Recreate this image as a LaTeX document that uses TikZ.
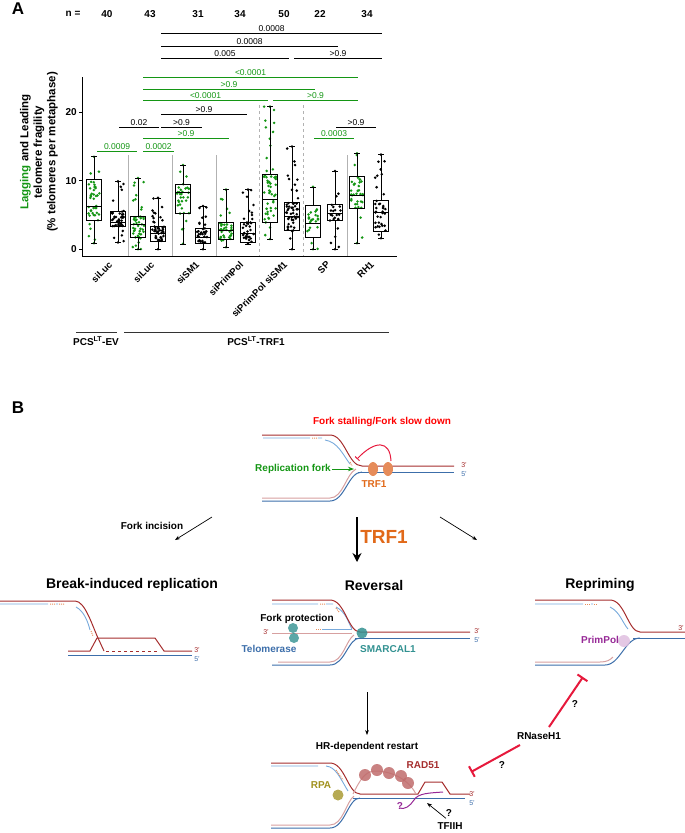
\documentclass[tikz,border=0pt]{standalone}
\usepackage{fontspec}
\setmainfont{Liberation Sans}
\usetikzlibrary{arrows.meta}
\definecolor{grn}{RGB}{20,150,20}
\definecolor{dred}{RGB}{165,45,45}
\definecolor{pnk}{RGB}{215,160,160}
\definecolor{dblu}{RGB}{60,110,170}
\definecolor{lblu}{RGB}{120,170,220}
\definecolor{orn}{RGB}{230,140,90}
\definecolor{ornt}{RGB}{225,105,25}
\definecolor{tl}{RGB}{50,145,145}
\definecolor{inh}{RGB}{230,25,60}
\definecolor{olv}{RGB}{160,145,30}
\definecolor{prp}{RGB}{150,40,150}
\tikzset{
 lab/.style={font=\fontsize{8.5}{9}\selectfont,inner sep=0.5pt},
 blab/.style={font=\bfseries\fontsize{10}{11}\selectfont,inner sep=1pt},
 clab/.style={font=\bfseries\fontsize{9.5}{10}\selectfont,inner sep=1pt},
 ttl/.style={font=\bfseries\fontsize{14}{15}\selectfont,inner sep=1pt},
 sml/.style={font=\fontsize{7}{7}\selectfont,inner sep=0.5pt},
 brk/.style={line width=0.6pt},
 sep/.style={gray!60,line width=0.5pt},
 rd/.style={dred,line width=1pt},
 pk/.style={pnk,line width=1pt},
 bl/.style={dblu,line width=1pt},
 lb/.style={lblu,line width=0.9pt},
 dots/.style={orn,densely dotted,line width=1pt},
 inhb/.style={inh,line width=2pt,-{Bar[width=12pt]}},
 ar/.style={-{Stealth[length=5pt]},line width=0.7pt}
}
\newcommand\yv[1]{249.3-6.86*#1}
\newcommand\bxp[9]{%
 \pgfmathsetseed{#9}
 \foreach \i in {1,...,#8}{%
  \pgfmathsetmacro\uu{rnd}\pgfmathsetmacro\jj{12*(rnd-0.5)}%
  \pgfmathsetmacro\vv{mod(\i,3)==0 ? #6+(#7-#6)*\uu : #3+(#5-#3)*\uu}%
  \fill[#2] ({#1+\jj},{\yv{\vv}}) circle (1.4);}
 \fill[#2] (#1,{\yv{#6}}) circle (1.4) (#1,{\yv{#7}}) circle (1.4);
 \draw[line width=0.6pt] (#1-7.5,{\yv{#3}}) rectangle (#1+7.5,{\yv{#5}})
   (#1-7.5,{\yv{#4}}) -- (#1+7.5,{\yv{#4}})
   (#1,{\yv{#3}}) -- (#1,{\yv{#6}}) (#1,{\yv{#5}}) -- (#1,{\yv{#7}})
   (#1-3,{\yv{#6}}) -- (#1+3,{\yv{#6}}) (#1-3,{\yv{#7}}) -- (#1+3,{\yv{#7}});}
\newcommand\brak[5]{\draw[brk,#1] (#2,#4) -- (#3,#4) node[midway,above=0.3pt,lab,text=#1]{#5};}
\begin{document}
\begin{tikzpicture}[x=1pt,y=-1pt]
\useasboundingbox (0,0) rectangle (685,833);
% ---------------- Panel A
\node[font=\bfseries\fontsize{17}{17}\selectfont] (A) at (18,9) {A};
\node[blab] (nn) at (73,14) {n =};
\foreach \xx/\nv [count=\k] in {107/40,150/43,198/31,240/34,284/50,320/22,367/34}
  \node[blab] (n\k) at (\xx,14) {\nv};
\draw[line width=0.8pt] (82,77) -- (82,256) -- (397,256);
\foreach \t in {0,10,20}{\draw[line width=0.8pt] (82,{\yv{\t}}) -- (79,{\yv{\t}});
  \node[blab,anchor=east] (yt\t) at (78,{\yv{\t}}) {\t};}
\node[font=\bfseries\fontsize{11.5}{13.5}\selectfont,rotate=90,align=center] (ylab) at (39,152) {{\color{grn}Lagging} and Leading\\telomere fragility\\(\% telomeres per metaphase)};
\foreach \xx in {128,172,216,347} \draw[sep] (\xx,155) -- (\xx,256);
\foreach \xx in {259,303} \draw[sep,dashed] (\xx,105) -- (\xx,256);
\bxp{94}{grn}{4.2}{6.2}{10.2}{0.9}{13.5}{40}{11}
\bxp{118}{black}{3.3}{4}{5.5}{1}{9.9}{40}{12}
\bxp{138}{grn}{1.7}{3.7}{4.8}{0}{10.4}{43}{13}
\bxp{158}{black}{1.2}{2.3}{3.3}{0}{7.5}{43}{14}
\bxp{183}{grn}{5.2}{8.3}{9.5}{0.8}{12.3}{31}{15}
\bxp{203}{black}{0.9}{1.7}{3.0}{0}{6.3}{31}{16}
\bxp{226}{grn}{1.5}{2.7}{4.0}{0.3}{8.7}{34}{17}
\bxp{248}{black}{1}{2.3}{4.0}{0.8}{8.7}{34}{18}
\bxp{270}{grn}{4.0}{7.3}{11.0}{1.5}{20.8}{50}{19}
\bxp{292}{black}{2.8}{4.8}{6.8}{0}{15}{50}{20}
\bxp{313}{grn}{1.8}{3.8}{6.4}{0}{9.1}{22}{21}
\bxp{335}{black}{4.2}{5.3}{6.5}{0}{11.4}{22}{22}
\bxp{357}{grn}{6}{7.8}{10.7}{0.9}{14}{34}{23}
\bxp{381}{black}{2.6}{5.4}{7.2}{1.6}{13.8}{34}{24}
\foreach \xx/\tx [count=\k] in {108/siLuc,150/siLuc,195/siSM1,239/siPrimPol,283/siPrimPol siSM1,326/SP,370/RH1}
  \node[clab,rotate=45,anchor=north east] (c\k) at (\xx,259) {\tx};
\brak{black}{161}{382}{33}{0.0008}
\brak{black}{161}{338}{46}{0.0008}
\brak{black}{161}{289}{58}{0.005}
\brak{black}{294}{382}{58}{>0.9}
\brak{grn}{143}{358}{77}{<0.0001}
\brak{grn}{143}{315}{89}{>0.9}
\brak{grn}{143}{268}{100}{<0.0001}
\brak{grn}{273}{358}{100}{>0.9}
\brak{black}{161}{247}{114}{>0.9}
\brak{black}{119}{159}{127}{0.02}
\brak{black}{161}{202}{127}{>0.9}
\brak{black}{336}{376}{127}{>0.9}
\brak{grn}{143}{229}{138}{>0.9}
\brak{grn}{314}{354}{138}{0.0003}
\brak{grn}{97}{137}{151}{0.0009}
\brak{grn}{143}{174}{151}{0.0002}
\draw[line width=1pt,gray!40!black] (76,332) -- (117,332) (124,332) -- (389,332);
\node[blab] (ev) at (96,341) {PCS\textsuperscript{LT}-EV};
\node[blab] (trf) at (256,341) {PCS\textsuperscript{LT}-TRF1};
% ---------------- Panel B
\node[font=\bfseries\fontsize{17}{17}\selectfont] (B) at (18,408) {B};
\node[blab,text=red] (stall) at (382,422) {Fork stalling/Fork slow down};
% top fork
\draw[lb] (263,438) -- (310,438) (318,438) -- (322,438) (325,440) .. controls (338,442) and (343,455) .. (350,464);
\draw[dots] (312,438) -- (318,438) (350,462) -- (352,466);
\draw[rd] (262,435) -- (330,435) .. controls (345,435) and (348,466) .. (362,466) -- (454,466);
\draw[bl] (358,472) -- (454,472);
\draw[bl] (262,501) -- (330,501) .. controls (345,501) and (348,472) .. (362,472);
\draw[pk] (262,498) -- (330,498) .. controls (343,498) and (346,474) .. (356,469);
\fill[orn] (373,469) ellipse (5 and 7) (388,469) ellipse (5 and 7);
\node[blab,text=ornt] (trf1a) at (374,484) {TRF1};
\node[sml,text=dred] (t3a) at (464,465) {3'};
\node[sml,text=dblu] (t5a) at (464,474) {5'};
\node[blab,text=grn,anchor=east] (rfork) at (332,469) {Replication fork};
\coordinate (rf2) at (354,469);
\draw[grn,line width=1pt,-{Stealth[length=6pt]}] (rfork) -- (rf2);
\coordinate (sa) at (391,461); \coordinate (sb) at (357,459);
\draw[inh,line width=1pt,-{Bar[width=6pt]}] (sa) .. controls (390,440) and (375,440) .. (sb);
% pathway arrows
\coordinate (a1s) at (212,517); \coordinate (a1e) at (175,540);
\coordinate (a2s) at (357,517); \coordinate (a2e) at (357,562);
\coordinate (a3s) at (440,517); \coordinate (a3e) at (477,540);
\draw[ar] (a1s) -- (a1e);
\draw[-{Stealth[length=9pt,width=9pt]},line width=1.8pt] (a2s) -- (a2e);
\draw[ar] (a3s) -- (a3e);
\node[blab] (finc) at (152,526) {Fork incision};
\node[font=\bfseries\fontsize{19}{19}\selectfont,text=ornt] (trfbig) at (384,537) {TRF1};
\node[ttl] (bir) at (132,585) {Break-induced replication};
\node[ttl] (rev) at (374,585) {Reversal};
\node[ttl] (rep) at (600,585) {Repriming};
% BIR
\draw[lb] (0,604) -- (48,604) (56,604) -- (58,604) (76,607) .. controls (84,611) and (88,622) .. (90,630);
\draw[dots] (50,604) -- (56,604) (59,604) -- (64,604) (91,631) -- (93,636);
\draw[rd] (0,601) -- (75,601) .. controls (85,601) and (92,625) .. (98,638) -- (104,651);
\draw[rd] (68,651) -- (90,651) -- (97,638) -- (155,638) -- (164,651) -- (192,651);
\draw[rd,dashed] (106,651) -- (157,651);
\draw[bl] (68,655) -- (192,655);
\node[sml,text=dred] (t3b) at (197,650) {3'};
\node[sml,text=dblu] (t5b) at (197,659) {5'};
% Reversal
\draw[lb] (272,604) -- (318,604) (326,604) -- (333,604) (336,607) .. controls (346,612) and (348,622) .. (352,629);
\draw[dots] (320,604) -- (326,604) (336,608) -- (339,612);
\draw[rd] (272,600) -- (330,600) .. controls (345,600) and (348,632) .. (360,632) -- (470,632);
\draw[bl] (355,638) -- (470,638);
\draw[bl] (272,665) -- (330,665) .. controls (345,665) and (348,638) .. (360,638);
\draw[pk] (278,662) -- (330,662) .. controls (343,662) and (346,640) .. (354,635);
\draw[pk] (272,633) -- (352,633);
\draw[lb] (322,629) -- (352,629);
\draw[dots] (316,629) -- (321,629);
\fill[tl,opacity=0.85] (362,633) circle (5.5);
\fill[tl,opacity=0.8] (293,628) circle (5) (294,638) circle (5);
\node[sml,text=dred] (t3r0) at (266,632) {3'};
\node[sml,text=dred] (t3r) at (477,631) {3'};
\node[sml,text=dblu] (t5r) at (477,640) {5'};
\node[blab] (fprot) at (297,619) {Fork protection};
\node[blab,text=dblu] (telo) at (269,649) {Telomerase};
\node[blab,text=tl] (smarc) at (388,649) {SMARCAL1};
% Repriming
\draw[lb] (535,604) -- (583,604) (591,604) -- (593,604) (610,607) .. controls (620,612) and (622,622) .. (628,629);
\draw[dots] (585,604) -- (591,604) (594,604) -- (598,604);
\draw[rd] (535,600) -- (610,600) .. controls (625,600) and (628,632) .. (640,632) -- (685,632);
\draw[bl] (633,638) -- (685,638);
\draw[bl] (535,665) -- (605,665) .. controls (620,665) and (625,638) .. (640,638);
\draw[pk] (535,662) -- (600,662) .. controls (607,662) and (610,660) .. (613,657);
\fill[prp!30,opacity=0.85] (624,641) circle (6);
\node[sml,text=dred] (t3p) at (681,628) {3'};
\node[blab,text=prp] (prim) at (600,640) {PrimPol};
% down arrow to HR
\coordinate (a4s) at (367,692); \coordinate (a4e) at (367,735);
\draw[ar] (a4s) -- (a4e);
\node[blab] (hr) at (367,747) {HR-dependent restart};
% HR diagram
\draw[lb] (271,766) -- (318,766) (326,766) .. controls (336,767) and (340,778) .. (348,791);
\draw[dots] (336,770) -- (343,780);
\draw[rd] (271,763) -- (330,763) .. controls (345,763) and (348,794) .. (360,794) -- (418,794) -- (425,782) -- (442,782) -- (450,794) -- (470,794);
\draw[pk] (353,794) .. controls (360,780) and (365,771) .. (375,771) .. controls (395,771) and (410,782) .. (416,794);
\draw[bl] (353,798) -- (465,798);
\draw[bl] (271,828) -- (330,828) .. controls (345,828) and (348,798) .. (360,798);
\draw[pk] (271,825) -- (330,825) .. controls (343,825) and (346,802) .. (354,796);
\foreach \px/\py in {365/775,377/770,389/773,401/776,408/783} \fill[dred!70,opacity=0.85] (\px,\py) circle (6);
\fill[olv!85,opacity=0.9] (338,795) circle (5.5);
\node[blab,text=dred] (rad) at (423,765) {RAD51};
\node[blab,text=olv] (rpa) at (321,785) {RPA};
\node[sml,text=dred] (t3h) at (472,794) {3'};
\node[sml,text=dblu] (t5h) at (472,803) {5'};
\draw[prp,line width=1pt] (399,808) .. controls (405,810) and (410,806) .. (414,800) .. controls (418,793) and (430,793) .. (443,792);
\node[blab,text=prp] (qp) at (400,806) {?};
\node[blab] (tf) at (450,826) {TFIIH};
\coordinate (tfa) at (427,803);
\draw[ar] (tf.north) ++(-4,-3) -- (tfa);
\node[blab] (qt) at (449,813) {?};
% RNaseH1
\node[blab] (rn) at (539,736) {RNaseH1};
\coordinate (r1s) at (549,727); \coordinate (r1) at (583,677);
\coordinate (r2s) at (520,745); \coordinate (r2) at (471,772);
\draw[inhb] (r1s) -- (r1);
\draw[inhb] (r2s) -- (r2);
\node[blab] (q1) at (575,704) {?};
\node[blab] (q2) at (502,765) {?};
\end{tikzpicture}
\end{document}
